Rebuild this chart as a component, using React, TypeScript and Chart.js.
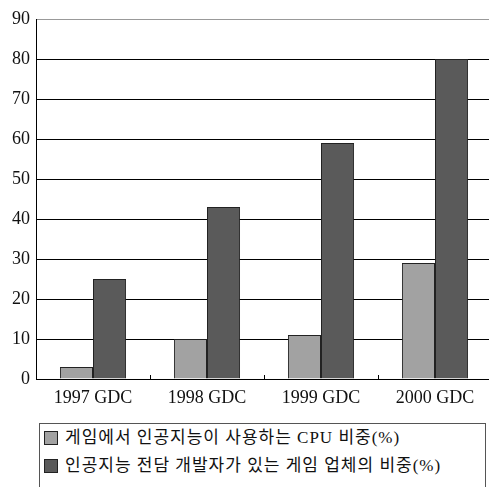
import React, { useEffect, useRef } from "react";
import { Chart, registerables } from "chart.js";

Chart.register(...registerables);

const categories = ["1997 GDC", "1998 GDC", "1999 GDC", "2000 GDC"];
const cpuShare = [3, 10, 11, 29];
const devShare = [25, 43, 59, 80];
const seriesNames = [
  "게임에서 인공지능이 사용하는 CPU 비중(%)",
  "인공지능 전담 개발자가 있는 게임 업체의 비중(%)",
];
const seriesColors = ["#a2a2a2", "#5a5a5a"];

const innerTicks = {
  id: "innerTicks",
  afterDatasetsDraw(chart: any) {
    const xs = chart.scales.x;
    const ctx = chart.ctx;
    const bottom = chart.chartArea.bottom;
    ctx.save();
    ctx.strokeStyle = "#000";
    ctx.lineWidth = 1;
    for (let i = 1; i < categories.length; i++) {
      const x = Math.round((xs.getPixelForTick(i - 1) + xs.getPixelForTick(i)) / 2) + 0.5;
      ctx.beginPath();
      ctx.moveTo(x, bottom);
      ctx.lineTo(x, bottom - 4);
      ctx.stroke();
    }
    ctx.restore();
  },
};

export default function App() {
  const ref = useRef<HTMLCanvasElement>(null);
  useEffect(() => {
    const chart = new Chart(ref.current!, {
      type: "bar",
      data: {
        labels: categories,
        datasets: [
          {
            label: seriesNames[0],
            data: cpuShare,
            backgroundColor: seriesColors[0],
            borderColor: "#222",
            borderWidth: 1,
            categoryPercentage: 0.58,
            barPercentage: 1,
          },
          {
            label: seriesNames[1],
            data: devShare,
            backgroundColor: seriesColors[1],
            borderColor: "#222",
            borderWidth: 1,
            categoryPercentage: 0.58,
            barPercentage: 1,
          },
        ],
      },
      options: {
        responsive: false,
        animation: false,
        devicePixelRatio: 1,
        layout: { padding: { top: 19, right: 0, left: 0, bottom: 0 } },
        plugins: { legend: { display: false }, tooltip: { enabled: false } },
        scales: {
          x: {
            grid: { display: false, drawTicks: false },
            border: { color: "#000", width: 1 },
            ticks: {
              padding: 8,
              color: "#111",
              font: { family: "Liberation Serif", size: 18 },
            },
            afterFit: (s: any) => {
              s.height = 40;
            },
          },
          y: {
            min: 0,
            max: 90,
            ticks: {
              stepSize: 10,
              padding: 6,
              color: "#111",
              font: { family: "Liberation Serif", size: 18 },
            },
            grid: {
              drawTicks: false,
              color: (c: any) => (c.tick && c.tick.value === 90 ? "#999" : "#000"),
              lineWidth: 1,
            },
            border: { color: "#000", width: 1 },
            afterFit: (s: any) => {
              s.width = 36;
            },
          },
        },
      },
      plugins: [innerTicks],
    });
    return () => chart.destroy();
  }, []);

  const font = '"Liberation Serif", "Noto Sans CJK KR", serif';
  return (
    <div
      style={{
        position: "fixed",
        left: 0,
        top: 0,
        width: 489,
        height: 487,
        overflow: "hidden",
        background: "#fff",
      }}
    >
      <canvas
        ref={ref}
        width={492}
        height={419}
        style={{ position: "absolute", left: 0, top: 0, width: 492, height: 419 }}
      />
      <div
        style={{
          position: "absolute",
          left: 39,
          top: 423,
          width: 447,
          height: 100,
          border: "1px solid #555",
          boxSizing: "border-box",
        }}
      />
      {seriesNames.map((name, i) => (
        <div
          key={i}
          style={{
            position: "absolute",
            left: 44,
            top: 430 + i * 28,
            height: 16,
            display: "flex",
            alignItems: "center",
            whiteSpace: "nowrap",
          }}
        >
          <div
            style={{
              width: 14,
              height: 14,
              background: seriesColors[i],
              border: "1px solid #222",
              boxSizing: "border-box",
            }}
          />
          <span
            style={{
              marginLeft: 7,
              fontFamily: font,
              fontSize: 17,
              letterSpacing: "1px",
              color: "#111",
              lineHeight: "16px",
            }}
          >
            {name}
          </span>
        </div>
      ))}
    </div>
  );
}
